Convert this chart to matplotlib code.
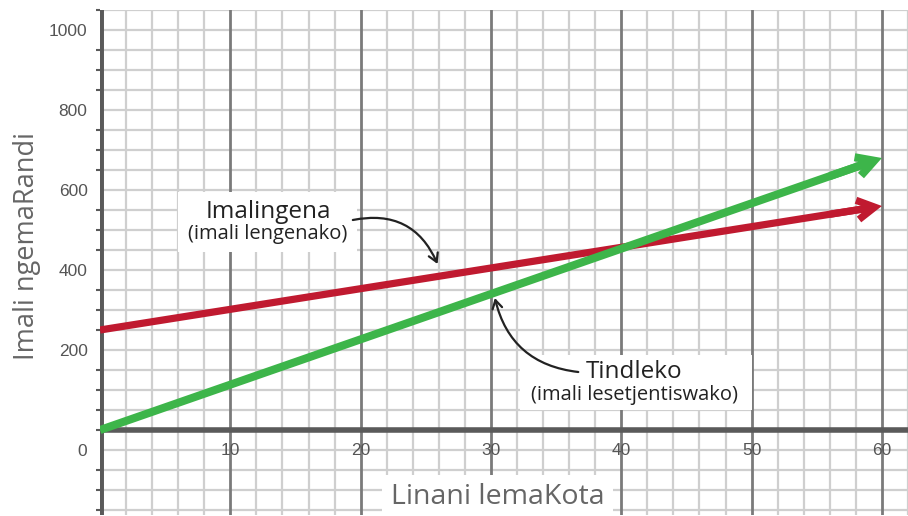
import matplotlib
matplotlib.use("Agg")
import matplotlib.pyplot as plt
import numpy as np

# data
units = [0, 60]
income = [250, 560]      # Imalingena (red)
costs = [0, 680]         # Tindleko (green)
ytick_vals = [200, 400, 600, 800, 1000]
xtick_vals = [10, 20, 30, 40, 50, 60]

fig = plt.figure(figsize=(9.08, 5.16), dpi=100)
W, H = 908, 516
ax = fig.add_axes([100 / W, 1 / H, 808 / W, 505 / H])
ax.set_xlim(0, 62)
ax.set_ylim(-212.5, 1050)
for s in ax.spines.values():
    s.set_visible(False)

light = "#cfcfcf"
dark = "#7a7a7a"
axc = "#5a5a5a"
# grid
for x in np.arange(2, 63, 2):
    major = x % 10 == 0
    ax.axvline(x, color=dark if major else light,
               lw=2.0 if major else 1.6, zorder=1.5 if major else 1)
for y in np.arange(-200, 1051, 50):
    if y != 0:
        ax.axhline(y, color=light, lw=1.6, zorder=1)
ax.axhline(0, color=axc, lw=4, zorder=2)
ax.axvline(0, color=axc, lw=5, zorder=2)

# ticks
ax.set_xticks([])
ax.set_yticks([-50] + ytick_vals)
ax.set_yticklabels(["0"] + [str(v) for v in ytick_vals])
ax.set_yticks(np.arange(-200, 1051, 50), minor=True)
ax.tick_params(axis="y", which="major", length=0, pad=9, labelsize=12.5, labelcolor="#555555")
ax.tick_params(axis="y", which="minor", length=3, width=1.5, color=axc)
for t in ax.get_yticklabels():
    t.set_fontfamily("Liberation Sans")
for v in xtick_vals:
    ax.text(v, -52, str(v), ha="center", va="center", fontsize=12.5,
            color="#555555", family="Liberation Sans", zorder=3)

# lines
red = "#c01a30"
green = "#3db54a"
for yv, col, lw in [(income, red, 5.2), (costs, green, 5.8)]:
    ax.plot([units[0], units[1] - 1.5], [yv[0], yv[0] + (yv[1] - yv[0]) * (units[1] - 1.5) / units[1]],
            color=col, lw=lw, solid_capstyle="butt", zorder=4)
    ax.annotate("", xy=(units[1], yv[1]), xytext=(units[1] - 4, yv[1] - (yv[1] - yv[0]) * 4 / units[1]),
                arrowprops=dict(arrowstyle="->,head_length=1.25,head_width=0.7", color=col, lw=lw,
                                joinstyle="miter", capstyle="butt", shrinkA=0, shrinkB=0),
                zorder=4)

# axis labels
ax.text(-5.6, 460, "Imali ngemaRandi", rotation=90, ha="center", va="center",
        fontsize=19.5, color="#666666", family="Open Sans")
ax.text(30.5, -167, "Linani lemaKota", ha="center", va="center", fontsize=20.5,
        color="#666666", family="Open Sans",
        bbox=dict(facecolor="white", edgecolor="none", pad=6), zorder=5)

# annotation 1
ax.add_patch(plt.Rectangle((6.0, 445), 13.7, 150, facecolor="white", edgecolor="none", zorder=5))
ax.text(12.9, 545, "Imalingena", ha="center", va="center", fontsize=17.5, color="#222222",
        family="Open Sans", zorder=6)
ax.text(12.9, 490, "(imali lengenako)", ha="center", va="center", fontsize=14.5, color="#222222",
        family="Open Sans", zorder=6)
ax.annotate("", xy=(25.9, 415), xytext=(19.4, 525),
            arrowprops=dict(arrowstyle="->,head_length=0.6,head_width=0.35", color="#222222", lw=1.6,
                            connectionstyle="arc3,rad=-0.4", shrinkA=0, shrinkB=0), zorder=6)

# annotation 2
ax.add_patch(plt.Rectangle((32.2, 50), 17.8, 138, facecolor="white", edgecolor="none", zorder=5))
ax.text(41.0, 145, "Tindleko", ha="center", va="center", fontsize=17.5, color="#222222",
        family="Open Sans", zorder=6)
ax.text(41.0, 87, "(imali lesetjentiswako)", ha="center", va="center", fontsize=14.5,
        color="#222222", family="Open Sans", zorder=6)
ax.annotate("", xy=(30.3, 330), xytext=(36.7, 145),
            arrowprops=dict(arrowstyle="->,head_length=0.6,head_width=0.35", color="#222222", lw=1.6,
                            connectionstyle="arc3,rad=-0.35", shrinkA=0, shrinkB=0), zorder=6)

fig.savefig("out.png", dpi=100)
